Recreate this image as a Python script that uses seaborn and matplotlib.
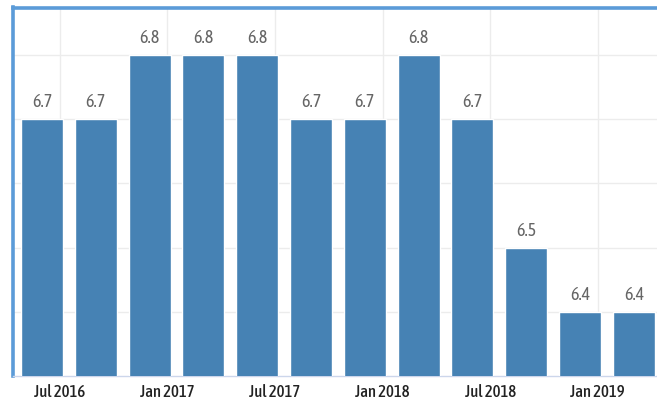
import matplotlib
matplotlib.use("Agg")
import matplotlib.pyplot as plt
import seaborn as sns
import pandas as pd

quarters = ["2016Q2", "2016Q3", "2016Q4", "2017Q1", "2017Q2", "2017Q3",
            "2017Q4", "2018Q1", "2018Q2", "2018Q3", "2018Q4", "2019Q1"]
values = [6.7, 6.7, 6.8, 6.8, 6.8, 6.7, 6.7, 6.8, 6.7, 6.5, 6.4, 6.4]
tick_labels = ["Jul 2016", "Jan 2017", "Jul 2017", "Jan 2018", "Jul 2018", "Jan 2019"]

sns.set_style("white")
plt.rcParams['font.family'] = ['Asap Condensed', 'DejaVu Sans']

df = pd.DataFrame({"quarter": quarters, "value": values})

fig = plt.figure(figsize=(6.57, 4.03), dpi=100)
ax = fig.add_axes([12.5 / 657, 27 / 403, 1 - 12.5 / 657, (403 - 27 - 7.5) / 403])

sns.barplot(data=df, x="quarter", y="value", color="#4682b4", saturation=1,
            width=0.78, ax=ax, zorder=3)

ax.set_xlim(-0.548, 11.43)
ax.set_ylim(6.3, 6.874)

ax.set_yticks([6.4, 6.5, 6.6, 6.7, 6.8])
ax.set_yticklabels([])
ax.tick_params(axis="y", length=0)

tick_pos = [0.33 + 2 * k for k in range(len(tick_labels))]
ax.set_xticks(tick_pos)
ax.set_xticklabels(tick_labels, fontsize=12, color="#222222", fontweight=500)
ax.tick_params(axis="x", length=4, width=1, color="#ccd6eb", pad=2)

ax.grid(True, axis="both", color="#ececec", linewidth=1, zorder=0)
ax.set_axisbelow(True)

for s in ["left", "top"]:
    ax.spines[s].set_color("#5b9bd8")
    ax.spines[s].set_linewidth(2.6)
ax.spines["right"].set_visible(False)
ax.spines["bottom"].set_color("#ccd6eb")
ax.spines["bottom"].set_linewidth(1)

ax.set_xlabel("")
ax.set_ylabel("")

for i, v in enumerate(values):
    ax.annotate(f"{v:.1f}", xy=(i, v), xytext=(0, 8.6), textcoords="offset points",
                ha="center", va="baseline", fontsize=13, color="#666666")

fig.savefig("out.png", dpi=100)
